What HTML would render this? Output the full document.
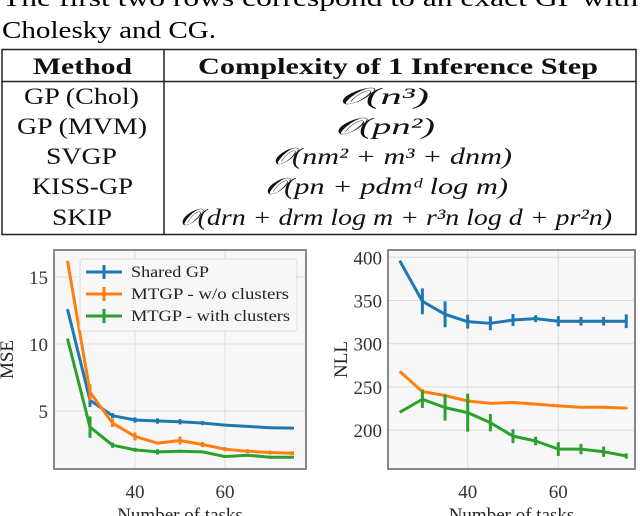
<!DOCTYPE html>
<html><head><meta charset="utf-8"><style>
body{margin:0;width:640px;height:516px;overflow:hidden;background:#fff;font-family:"Liberation Serif",serif;}
svg{position:absolute;left:0;top:0}
</style></head><body>
<svg id="s" width="640" height="516" xmlns="http://www.w3.org/2000/svg" font-family="Liberation Serif, serif">
<text x="2" y="6" font-size="24" textLength="636" lengthAdjust="spacingAndGlyphs">The first two rows correspond to an exact GP with</text>
<text x="2" y="38" font-size="24" textLength="214" lengthAdjust="spacingAndGlyphs">Cholesky and CG.</text>
<g stroke="#222" stroke-width="1.5" fill="none">
<rect x="2" y="49.5" width="634" height="185"/>
<line x1="2" y1="81.5" x2="636" y2="81.5"/>
<line x1="164" y1="49.5" x2="164" y2="234.5"/>
</g>
<g font-size="23" fill="#111">
<text x="33" y="74" font-weight="bold" textLength="99" lengthAdjust="spacingAndGlyphs">Method</text>
<text x="198" y="74" font-weight="bold" textLength="400" lengthAdjust="spacingAndGlyphs">Complexity of 1 Inference Step</text>
<text x="24" y="104" textLength="115" lengthAdjust="spacingAndGlyphs">GP (Chol)</text>
<text x="17" y="134" textLength="130" lengthAdjust="spacingAndGlyphs">GP (MVM)</text>
<text x="46" y="164" textLength="71" lengthAdjust="spacingAndGlyphs">SVGP</text>
<text x="32" y="194" textLength="101" lengthAdjust="spacingAndGlyphs">KISS-GP</text>
<text x="52" y="225" textLength="60" lengthAdjust="spacingAndGlyphs">SKIP</text>
<g font-style="italic">
<text x="339" y="104" textLength="90" lengthAdjust="spacingAndGlyphs">𝒪(n³)</text>
<text x="335" y="134" textLength="100" lengthAdjust="spacingAndGlyphs">𝒪(pn²)</text>
<text x="273" y="164" textLength="239" lengthAdjust="spacingAndGlyphs">𝒪(nm² + m³ + dnm)</text>
<text x="265" y="194" textLength="243" lengthAdjust="spacingAndGlyphs">𝒪(pn + pdmᵈ log m)</text>
<text x="180" y="225" textLength="432" lengthAdjust="spacingAndGlyphs">𝒪(drn + drm log m + r³n log d + pr²n)</text>
</g></g>
<g id="c1"></g><g id="c2"></g>
</svg>
<script>
const xs=[25,30,35,40,45,50,55,60,65,70,75];
const mseBlue=[12.6,5.8,4.65,4.33,4.25,4.2,4.1,3.95,3.85,3.75,3.72];
const mseBlueErr=[0,0.5,0.2,0.2,0.2,0.2,0.15,0.1,0.1,0.1,0.1];
const mseOrange=[16.2,6.4,4.1,3.1,2.6,2.8,2.5,2.15,2.0,1.9,1.85];
const mseOrangeErr=[0,0.6,0.3,0.3,0.1,0.3,0.2,0.15,0.15,0.15,0.15];
const mseGreen=[10.4,3.8,2.45,2.1,1.95,2.0,1.95,1.6,1.7,1.55,1.55];
const mseGreenErr=[0,0.8,0.2,0.15,0.2,0.1,0.1,0.1,0.1,0.1,0.1];
const nllBlue=[396,349,334,325.5,323.6,327.4,329,326,326,326,326];
const nllBlueErr=[0,15,15,8,8,7,4,6,5,5,8];
const nllOrange=[268,244.5,240,233.7,231,232,230,228,226.5,226.5,225.5];
const nllOrangeErr=[0,3,2,2,1,1,1,1,1,1,1];
const nllGreen=[220.6,235.7,226,220.2,208.6,193,187.4,178,178,175,170];
const nllGreenErr=[0,10,15,22,10,8,5,8,6,6,3];
const xTicks=[40,60];
const mseTicks=[5,10,15];
const nllTicks=[200,250,300,350,400];
const C={blue:'#1f77b4',orange:'#ff7f0e',green:'#2ca02c'};
const NS='http://www.w3.org/2000/svg';
function mk(p,t,a){const e=document.createElementNS(NS,t);for(const k in a)e.setAttribute(k,a[k]);p.appendChild(e);return e;}
function chart(g,box,xmap,ymap,yTicks,ylabel,series,name){
  const r=mk(g,'rect',{x:box.x,y:box.y,width:box.w,height:box.h,fill:'#f7f7f7'});
  
  
  xTicks.forEach(t=>{const X=xmap(t);
    const l=mk(g,'line',{x1:X,x2:X,y1:box.y,y2:box.y+box.h,stroke:'#dcdcdc','stroke-width':1});
    
    
    const tx=mk(g,'text',{x:X,y:box.y+box.h+29,'font-size':19,'text-anchor':'middle',fill:'#333'});tx.textContent=t;
    
    });
  yTicks.forEach(t=>{const Y=ymap(t);
    const l=mk(g,'line',{x1:box.x,x2:box.x+box.w,y1:Y,y2:Y,stroke:'#dcdcdc','stroke-width':1});
    
    
    const tx=mk(g,'text',{x:box.x-6,y:Y+7,'font-size':19,'text-anchor':'end',fill:'#333'});tx.textContent=t;
    
    });
  series.forEach(s=>{
    const pts=xs.map((x,i)=>xmap(x)+','+ymap(s.v[i])).join(' ');
    const pl=mk(g,'polyline',{points:pts,fill:'none',stroke:s.c,'stroke-width':3,'stroke-linejoin':'round'});
    
    
    xs.forEach((x,i)=>{if(!s.e[i])return;
      const eb=mk(g,'line',{x1:xmap(x),x2:xmap(x),y1:ymap(s.v[i]-s.e[i]),y2:ymap(s.v[i]+s.e[i]),stroke:s.c,'stroke-width':3});
      
      });
  });
  const b=mk(g,'rect',{x:box.x,y:box.y,width:box.w,height:box.h,fill:'none',stroke:'#888','stroke-width':2});
  
  
  const yl=mk(g,'text',{x:0,y:0,'font-size':19,'text-anchor':'middle',fill:'#222',transform:`translate(${box.x-41},${box.y+box.h/2}) rotate(-90)`});yl.textContent=ylabel;
  
  
  const xl=mk(g,'text',{x:box.x+box.w/2,y:box.y+box.h+52,'font-size':19,'text-anchor':'middle',fill:'#222'});xl.textContent='Number of tasks';
  
  
}
const b1={x:54,y:250,w:252,h:219};
const x1=v=>135+(v-40)*4.5, y1=v=>478-v*13.4;
chart(document.getElementById('c1'),b1,x1,y1,mseTicks,'MSE',[
 {n:'shared-gp',c:C.blue,v:mseBlue,e:mseBlueErr},
 {n:'mtgp-no-clusters',c:C.orange,v:mseOrange,e:mseOrangeErr},
 {n:'mtgp-clusters',c:C.green,v:mseGreen,e:mseGreenErr}],'mse');
const b2={x:388,y:250,w:247,h:219};
const x2=v=>467.7+(v-40)*4.53, y2=v=>257.3+(400-v)*0.864;
chart(document.getElementById('c2'),b2,x2,y2,nllTicks,'NLL',[
 {n:'shared-gp',c:C.blue,v:nllBlue,e:nllBlueErr},
 {n:'mtgp-no-clusters',c:C.orange,v:nllOrange,e:nllOrangeErr},
 {n:'mtgp-clusters',c:C.green,v:nllGreen,e:nllGreenErr}],'nll');
const lg=document.getElementById('c1');
const lb=mk(lg,'rect',{x:80,y:259,width:217,height:72,rx:3,fill:'#f7f7f7',stroke:'#ddd','stroke-width':1});


const labels=['Shared GP','MTGP - w/o clusters','MTGP - with clusters'];
const lw=[78,158,159];
const cols=[C.blue,C.orange,C.green];
labels.forEach((t,i)=>{const Y=272+i*22;
  const ln=mk(lg,'line',{x1:86,x2:122,y1:Y,y2:Y,stroke:cols[i],'stroke-width':3});
  
  
  const v=mk(lg,'line',{x1:104,x2:104,y1:Y-7,y2:Y+7,stroke:cols[i],'stroke-width':3});
  
  
  const tx=mk(lg,'text',{x:131,y:Y+5,'font-size':16,fill:'#222',textLength:lw[i],lengthAdjust:'spacingAndGlyphs'});tx.textContent=t;
  
  });
</script>
</body></html>
